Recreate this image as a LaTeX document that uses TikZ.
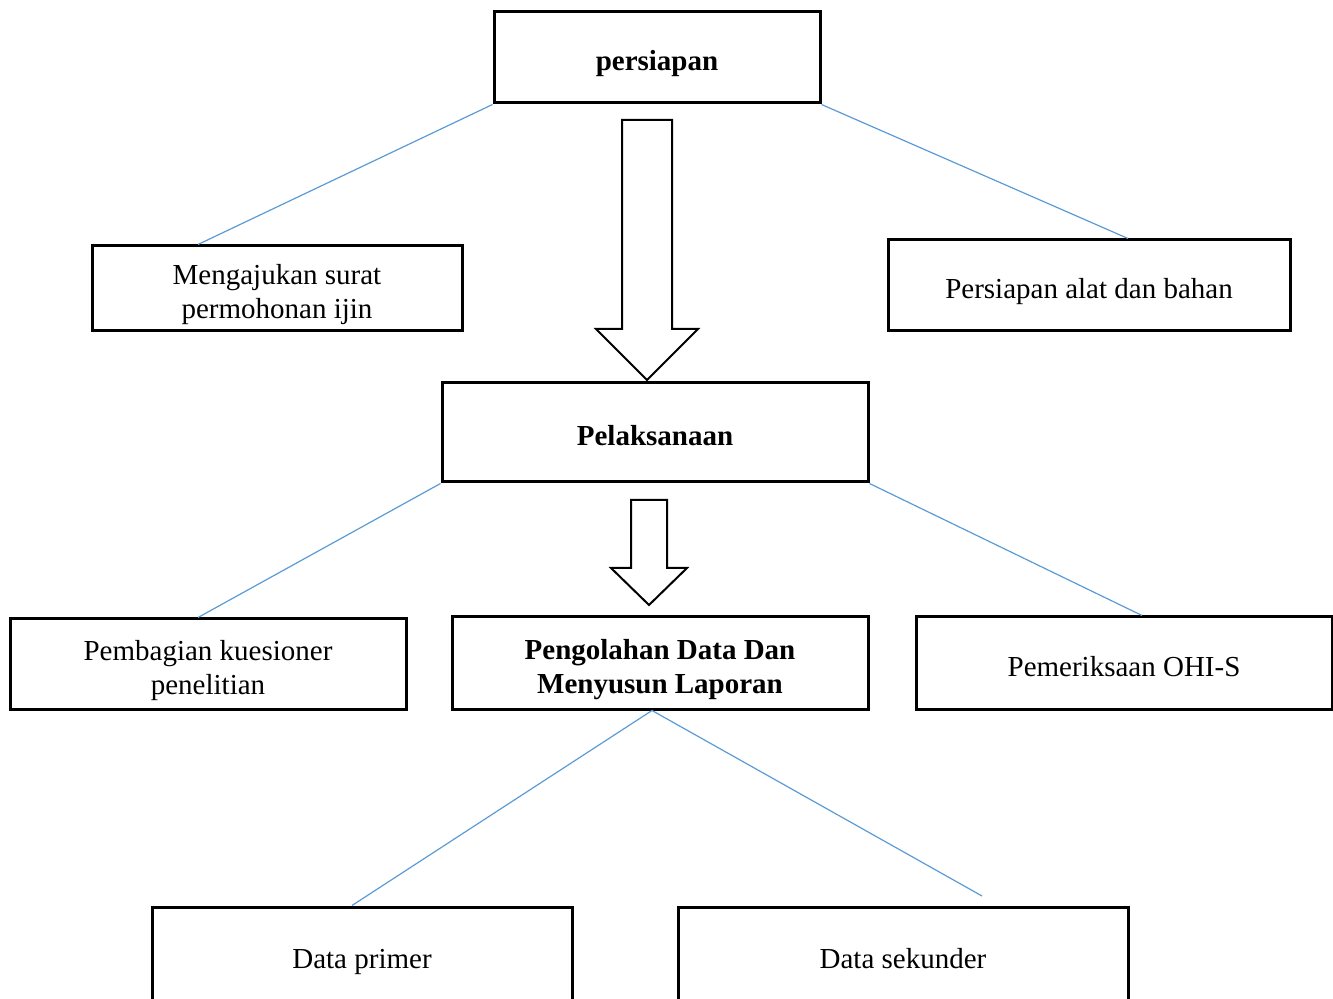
\documentclass[tikz,border=0pt]{standalone}
\usepackage{fontspec}
\setmainfont{Liberation Serif}
\usetikzlibrary{positioning,calc}
\definecolor{garisbiru}{RGB}{91,155,213}

\begin{document}
\begin{tikzpicture}[x=0.5pt,y=-0.5pt,font=\fontsize{14.5}{17}\selectfont,
kotak/.style={draw,line width=1.5pt,align=center,inner sep=0pt,text height=17pt,text depth=3.5pt},
duabaris/.style={text height=34pt},
garis/.style={draw=garisbiru,line width=0.6pt},
panah/.style={draw,line width=1pt,fill=white}]

\clip (0,0) rectangle (1333,999);

\node[kotak,minimum width=163pt,minimum height=45.5pt](persiapan) at (657,57.5){\textbf{persiapan}};
\node[kotak,duabaris,minimum width=185pt,minimum height=42.5pt](ijin) at (277,288.5){Mengajukan surat\\permohonan ijin};
\node[kotak,minimum width=201pt,minimum height=45.5pt](alat) at (1089,285.5){Persiapan alat dan bahan};

\node[kotak,minimum width=213pt,minimum height=49.5pt](pelaksanaan) at (655,432.5){\textbf{Pelaksanaan}};

\node[kotak,duabaris,minimum width=198pt,minimum height=45pt](kuesioner) at (208,664){Pembagian kuesioner\\penelitian};
\node[kotak,duabaris,minimum width=208pt,minimum height=46pt](pengolahan) at (660,663){\textbf{Pengolahan Data Dan}\\\textbf{Menyusun Laporan}};
\node[kotak,minimum width=208pt,minimum height=46pt](ohis) at (1124,663){Pemeriksaan OHI-S};

\node[kotak,minimum width=210pt,minimum height=48pt](primer) at (362,955){Data primer};
\node[kotak,minimum width=225pt,minimum height=48pt](sekunder) at (903,955){Data sekunder};

% garis cabang
\draw[garis] (persiapan.south west) -- ($(ijin.north)+(-79,0)$);
\draw[garis] (persiapan.south east) -- ($(alat.north)+(39,0)$);
\draw[garis] (pelaksanaan.south west) -- ($(kuesioner.north)+(-10,0)$);
\draw[garis] (pelaksanaan.south east) -- ($(ohis.north)+(18,0)$);
\coordinate (ujung) at (982,896);
\draw[garis] ($(pengolahan.south)+(-8,0)$) -- ($(primer.north)+(-10,0)$);
\draw[garis] ($(pengolahan.south)+(-8,0)$) -- (ujung);

% panah blok
\draw[panah] (622,120) -- (672,120) -- (672,329) -- (698,329) -- (647,380) -- (596,329) -- (622,329) -- cycle;
\draw[panah] (631,500) -- (667,500) -- (667,568) -- (687,568) -- (649,605) -- (611,568) -- (631,568) -- cycle;

\end{tikzpicture}
\end{document}
